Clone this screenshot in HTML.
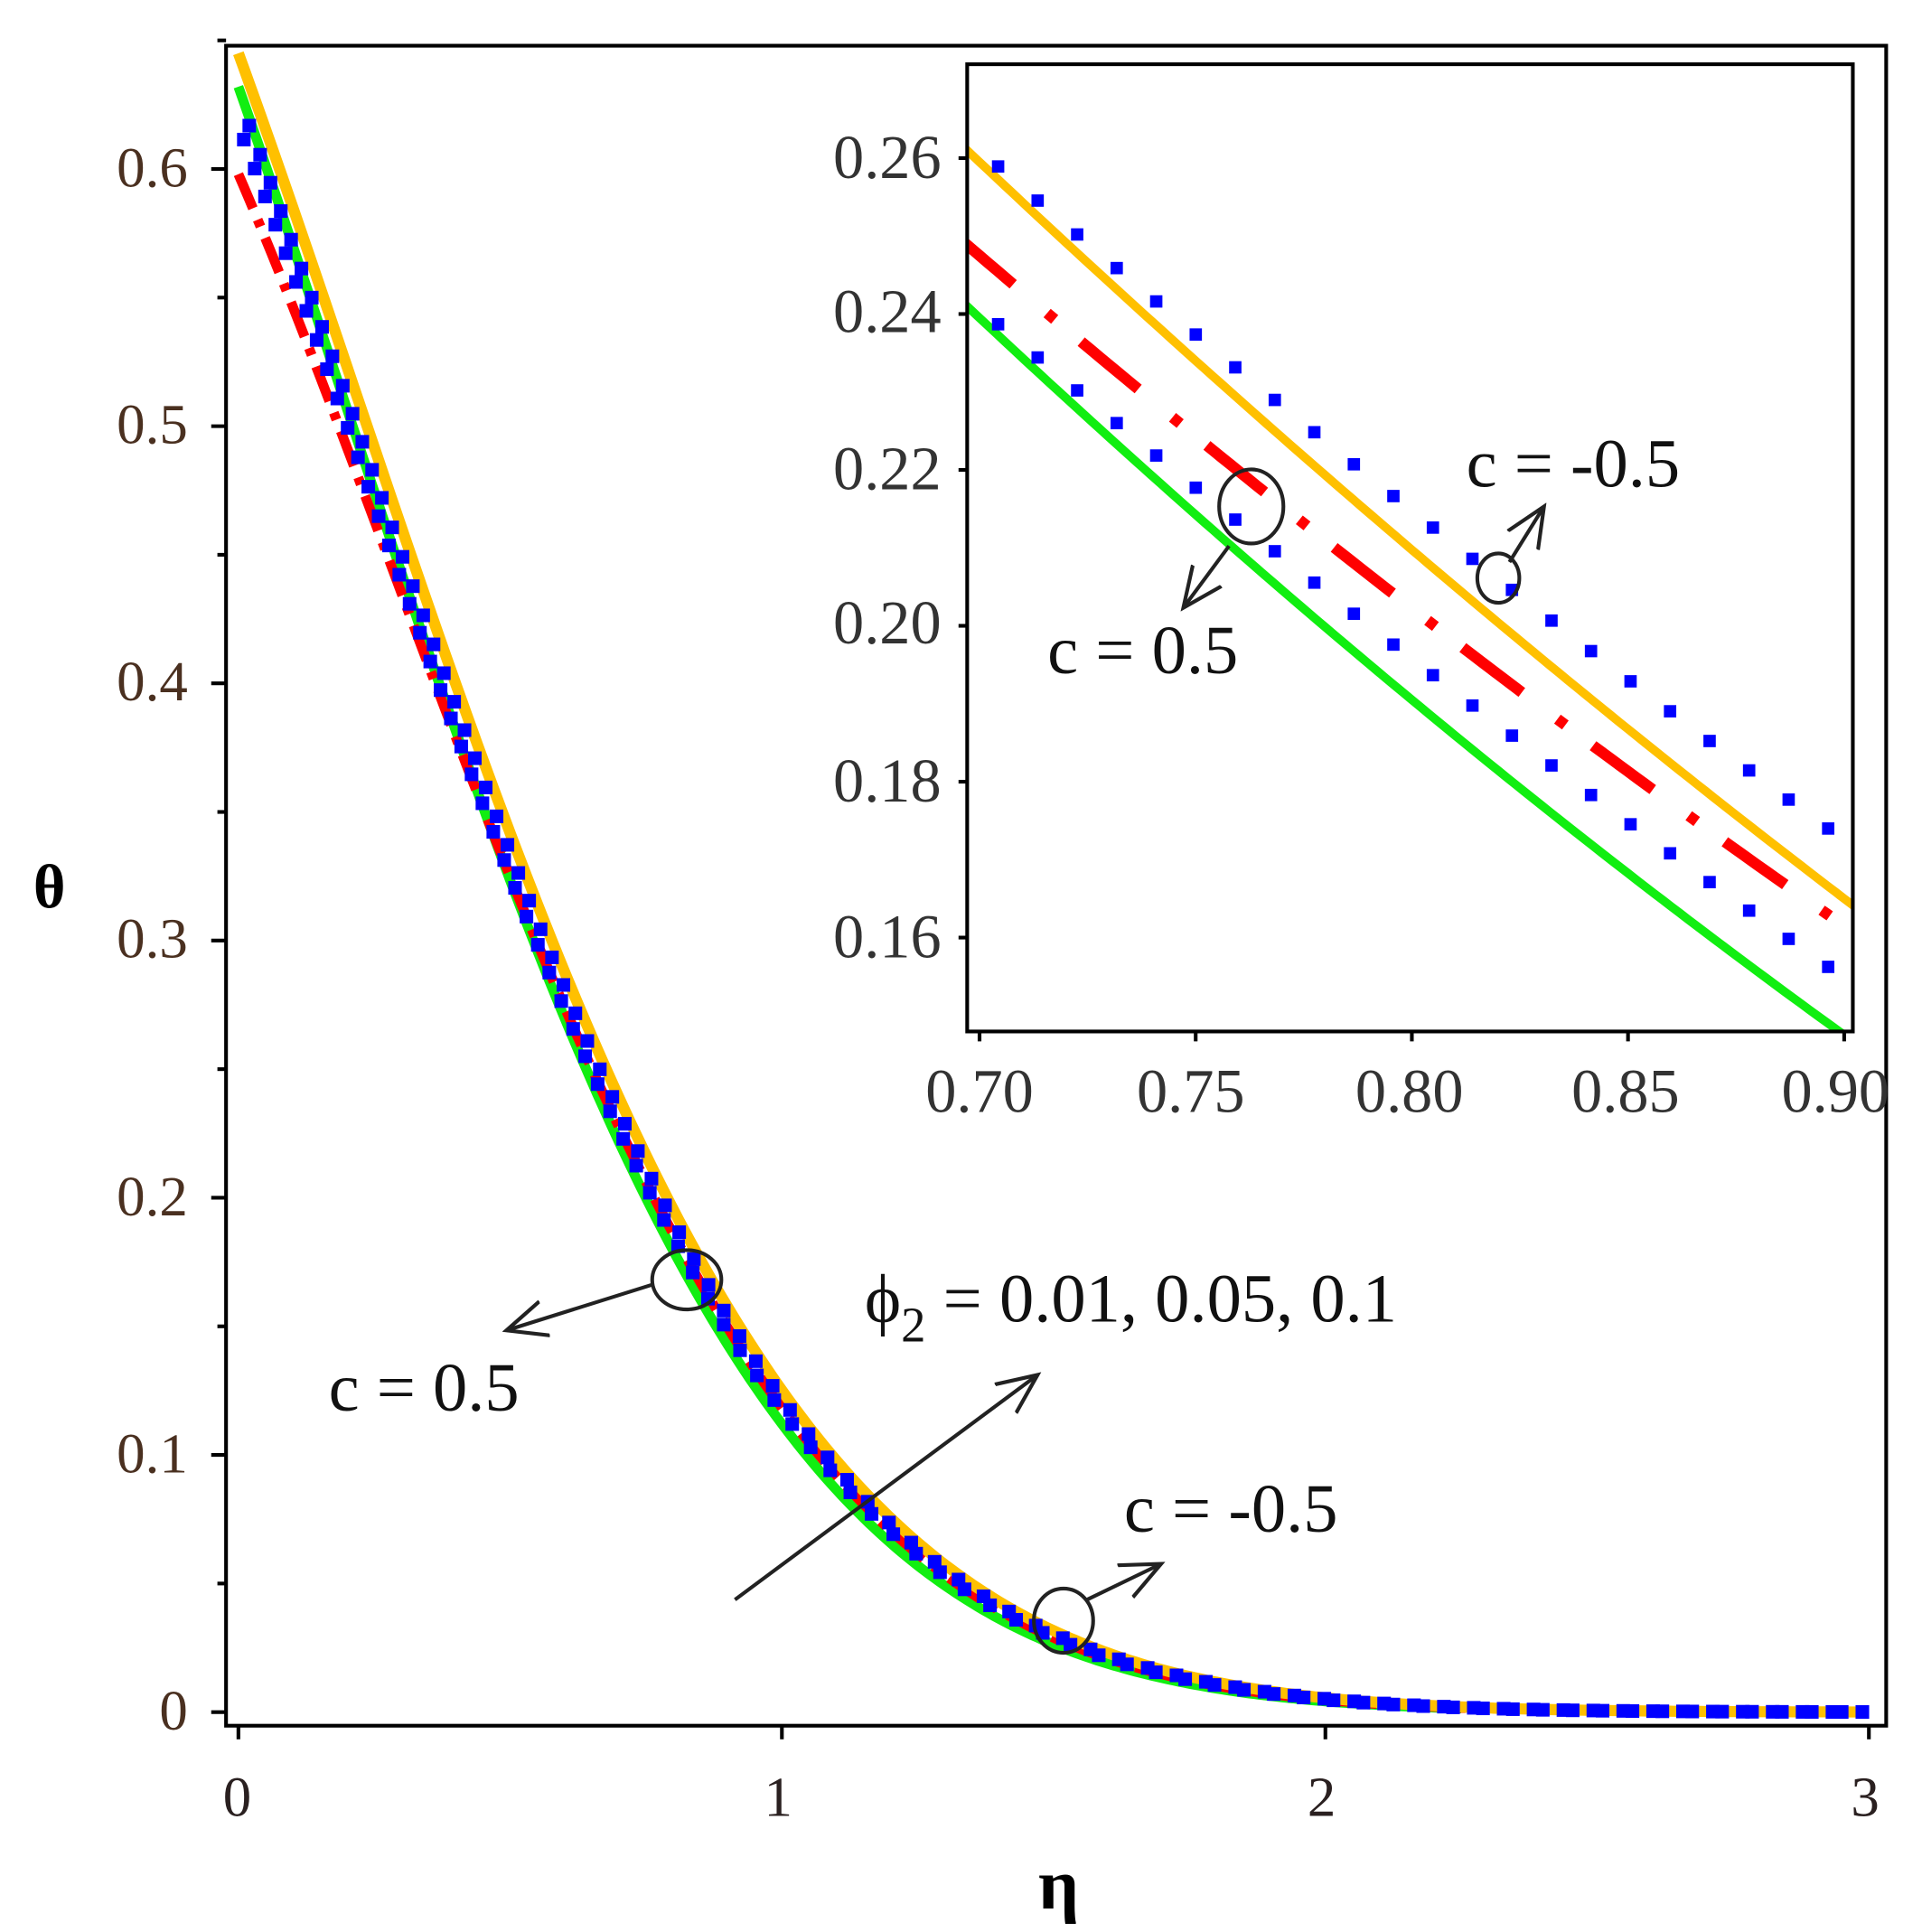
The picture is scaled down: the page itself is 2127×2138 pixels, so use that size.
<!DOCTYPE html>
<html><head><meta charset="utf-8"><style>
html,body{margin:0;padding:0;background:#fff;}
svg{display:block;}
text{font-family:"Liberation Serif",serif;}
</style></head><body>
<svg id="s" width="2127" height="2138" viewBox="0 0 1556 1564" preserveAspectRatio="none" xmlns="http://www.w3.org/2000/svg">
<defs>
<marker id="ah" viewBox="0 0 20 20" refX="18" refY="10" markerWidth="36" markerHeight="36" markerUnits="userSpaceOnUse" orient="auto">
<path d="M0,2 L18,10 L0,18" fill="none" stroke="#222" stroke-width="1.7"/>
</marker>
<clipPath id="ic"><rect x="783" y="52" width="717" height="783"/></clipPath>
<clipPath id="mc"><rect x="183" y="37" width="1344" height="1360"/></clipPath>
</defs>
<g id="main" clip-path="url(#mc)"></g>
<rect x="183" y="37" width="1344" height="1360" fill="none" stroke="#000" stroke-width="3"/>
<g id="ticks" stroke="#000" stroke-width="3"></g>
<g font-size="46" fill="#4a3020" text-anchor="end">
<text x="152" y="1400">0</text>
<text x="152" y="1192">0.1</text>
<text x="152" y="984">0.2</text>
<text x="152" y="775">0.3</text>
<text x="152" y="567">0.4</text>
<text x="152" y="359">0.5</text>
<text x="152" y="151">0.6</text>
</g>
<g font-size="46" fill="#2a2020" text-anchor="middle">
<text x="192" y="1470">0</text>
<text x="630" y="1470">1</text>
<text x="1070" y="1470">2</text>
<text x="1510" y="1470">3</text>
</g>
<text x="40" y="735" font-size="50" font-weight="bold" text-anchor="middle">θ</text>
<text x="857" y="1545" font-size="58" font-weight="bold" text-anchor="middle">η</text>

<rect x="783" y="52" width="717" height="783" fill="#fff" stroke="none"/>
<g id="ins" clip-path="url(#ic)"></g>
<rect x="783" y="52" width="717" height="783" fill="none" stroke="#000" stroke-width="3"/>
<g id="iticks" stroke="#000" stroke-width="3"></g>
<g font-size="50" fill="#333" text-anchor="end">
<text x="762" y="144">0.26</text>
<text x="762" y="269">0.24</text>
<text x="762" y="396">0.22</text>
<text x="762" y="521">0.20</text>
<text x="762" y="649">0.18</text>
<text x="762" y="775">0.16</text>
</g>
<g font-size="50" fill="#333" text-anchor="middle">
<text x="793" y="900">0.70</text>
<text x="964" y="900">0.75</text>
<text x="1141" y="900">0.80</text>
<text x="1316" y="900">0.85</text>
<text x="1486" y="900">0.90</text>
</g>

<g fill="none" stroke="#222" stroke-width="3">
<ellipse cx="556" cy="1036" rx="28" ry="24"/>
<line x1="528" y1="1040" x2="410" y2="1077" marker-end="url(#ah)"/>
<line x1="595" y1="1295" x2="840" y2="1113" marker-end="url(#ah)"/>
<ellipse cx="861" cy="1312" rx="24" ry="26"/>
<line x1="880" y1="1295" x2="940" y2="1266" marker-end="url(#ah)"/>
<ellipse cx="1013" cy="410" rx="26" ry="30"/>
<line x1="995" y1="442" x2="958" y2="492" marker-end="url(#ah)"/>
<ellipse cx="1213" cy="468" rx="17" ry="20"/>
<line x1="1222" y1="455" x2="1250" y2="410" marker-end="url(#ah)"/>
</g>
<g font-size="56" fill="#111">
<text x="266" y="1142">c = 0.5</text>
<text x="700" y="1070">ϕ<tspan font-size="40" dy="16">2</tspan><tspan dy="-16"> = 0.01, 0.05, 0.1</tspan></text>
<text x="910" y="1240">c = -0.5</text>
<text x="848" y="545">c = 0.5</text>
<text x="1187" y="394">c = -0.5</text>
</g>
</svg>
<script>
var NS="http://www.w3.org/2000/svg";
function el(p,t,a){var e=document.createElementNS(NS,t);for(var k in a)e.setAttribute(k,a[k]);p.appendChild(e);return e;}
var main=document.getElementById("main"),ins=document.getElementById("ins");
var ticks=document.getElementById("ticks"),it=document.getElementById("iticks");
for(var i=0;i<=13;i++){var y=1386-i*0.05*2082;var L=(i%2==0)?12:7;el(ticks,"line",{x1:183-L,x2:183,y1:y,y2:y});}
for(var i=0;i<=3;i++){var x=193+i*440;el(ticks,"line",{x1:x,x2:x,y1:1397,y2:1408});}
for(var i=0;i<6;i++){var y=128+i*126.2;el(it,"line",{x1:776,x2:783,y1:y,y2:y});}
for(var i=0;i<5;i++){var x=793+i*175;el(it,"line",{x1:x,x2:x,y1:835,y2:843});}
function MX(e){return 193+440*e;} function MY(v){return 1386-2082*v;}
function f(A,a,b){return function(e){return A*Math.exp(-a*e-b*e*e);};}
function mpath(fn,e0,e1){var d="";for(var e=e0;e<=e1+1e-9;e+=0.01){d+=(d?"L":"M")+MX(e).toFixed(1)+","+MY(fn(e)).toFixed(1);}return d;}
var og=f(0.645,0.9,0.74),gr=f(0.632,0.95,0.78),b1=f(0.628,0.88,0.76),b2=f(0.617,0.9,0.76),rd=f(0.598,0.82,0.8);
el(main,"path",{d:mpath(gr,0,2.25),fill:"none",stroke:"#11ee11","stroke-width":8});
el(main,"path",{d:mpath(rd,0,2.3),fill:"none",stroke:"#ff0000","stroke-width":8,"stroke-dasharray":"30 10 6 10"});
el(main,"path",{d:mpath(og,0,3),fill:"none",stroke:"#ffc000","stroke-width":9});
function dots(g,fn,e0,e1,n,X,Y,s){for(var i=0;i<n;i++){var e=e0+(e1-e0)*i/(n-1);el(g,"rect",{x:X(e)-s/2,y:Y(fn(e))-s/2,width:s,height:s,fill:"#0000ff"});}}
function arcdots(fn,step,off){var acc=off,px=MX(0),py=MY(fn(0));for(var e=0.001;e<=3;e+=0.001){var x=MX(e),y=MY(fn(e));acc+=Math.hypot(x-px,y-py);px=x;py=y;if(acc>=step){acc=0;el(main,"rect",{x:x-5.5,y:y-5.5,width:11,height:11,fill:"#0000ff"});}}}
arcdots(b1,24,0);arcdots(b2,24,12);
function IX(e){return 793+3500*(e-0.7);} function IY(v){return 128+(0.26-v)/0.02*126.2;}
function q(v0,v1,c){return function(e){var t=(e-0.7)/0.2;return v0+(v1-v0-c)*t+c*t*t;};}
function ipath(fn){var d="";for(var e=0.69;e<=0.91;e+=0.002){d+=(d?"L":"M")+IX(e).toFixed(1)+","+IY(fn(e)).toFixed(1);}return d;}
el(ins,"path",{d:ipath(q(0.2395,0.1475,0.012)),fill:"none",stroke:"#11ee11","stroke-width":7});
el(ins,"path",{d:ipath(q(0.2475,0.1615,0.009)),fill:"none",stroke:"#ff0000","stroke-width":9,"stroke-dasharray":"8 28 60 36","stroke-dashoffset":"14"});
el(ins,"path",{d:ipath(q(0.2595,0.165,0.01)),fill:"none",stroke:"#ffc000","stroke-width":7});
dots(ins,q(0.261,0.1725,0.008),0.7043,0.8963,22,IX,IY,10);
dots(ins,q(0.2407,0.1548,0.008),0.7043,0.8963,22,IX,IY,10);
</script>
</body></html>
